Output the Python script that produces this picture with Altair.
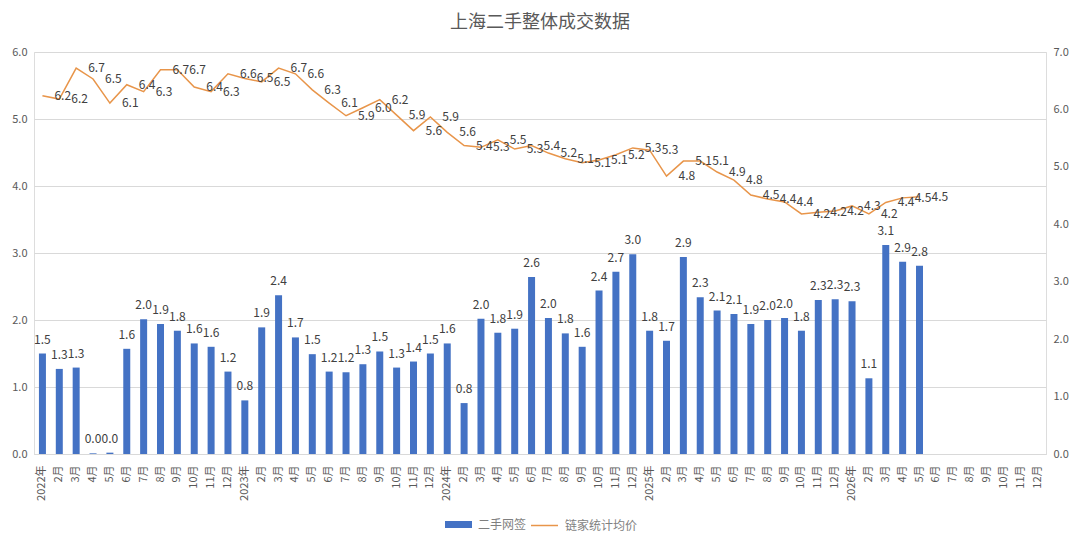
import altair as alt
import pandas as pd

FONT = "Noto Sans CJK SC"

# 60 monthly categories: 2022-01 .. 2026-12
years = [2022, 2023, 2024, 2025, 2026]
months = list(range(1, 13))
keys = [f"{y}-{m:02d}" for y in years for m in months]

# 二手网签 (left axis), 2022-01 .. 2026-05
deals = [1.50, 1.27, 1.29, 0.01, 0.02, 1.57, 2.01, 1.94, 1.84, 1.65, 1.60, 1.23,
         0.80, 1.89, 2.37, 1.74, 1.49, 1.23, 1.22, 1.34, 1.53, 1.29, 1.38, 1.50,
         1.65, 0.76, 2.02, 1.81, 1.87, 2.64, 2.03, 1.80, 1.60, 2.44, 2.72, 2.98,
         1.84, 1.69, 2.94, 2.34, 2.14, 2.09, 1.94, 2.00, 2.03, 1.84, 2.30, 2.31,
         2.28, 1.13, 3.12, 2.87, 2.81]

# 链家统计均价 (right axis), 2022-01 .. 2026-05
price = [6.24, 6.18, 6.72, 6.53, 6.11, 6.43, 6.31, 6.69, 6.69, 6.39, 6.31, 6.62,
         6.54, 6.48, 6.72, 6.62, 6.34, 6.11, 5.89, 6.03, 6.17, 5.90, 5.63, 5.87,
         5.60, 5.37, 5.34, 5.47, 5.31, 5.37, 5.24, 5.14, 5.07, 5.12, 5.21, 5.33,
         5.29, 4.84, 5.10, 5.10, 4.91, 4.77, 4.51, 4.44, 4.39, 4.18, 4.21, 4.23,
         4.32, 4.18, 4.38, 4.46, 4.48]

left_ticks = [0, 1, 2, 3, 4, 5, 6]
right_ticks = [0, 1, 2, 3, 4, 5, 6, 7]

bar_df = pd.DataFrame({"key": keys[:len(deals)], "v": deals, "s1": "二手网签"})
line_df = pd.DataFrame({"key": keys[:len(price)], "p": price, "s2": "链家统计均价"})

label_expr = ("substring(datum.value,5,7)=='01' ? substring(datum.value,0,4)+'年' : "
              "toNumber(substring(datum.value,5,7))+'月'")

X = alt.X("key:O",
          scale=alt.Scale(type="band", domain=keys, paddingInner=0, paddingOuter=0),
          axis=alt.Axis(labelExpr=label_expr, labelAngle=-90, labelFontSize=11,
                        labelColor="#595959", labelFont=FONT, ticks=False,
                        domainColor="#d9d9d9", labelPadding=11, grid=False),
          title=None)

Y_left = alt.Y("v:Q", scale=alt.Scale(domain=[0, 6], nice=False),
               axis=alt.Axis(values=left_ticks, format=".1f", orient="left",
                             grid=True, gridColor="#d9d9d9", domain=False, ticks=False,
                             labelColor="#595959", labelFontSize=11, labelFont=FONT,
                             labelPadding=7),
               title=None)

Y_right = alt.Y("p:Q", scale=alt.Scale(domain=[0, 7], nice=False),
                axis=alt.Axis(values=right_ticks, format=".1f", orient="right",
                              grid=False, domain=False, ticks=False,
                              labelColor="#595959", labelFontSize=11, labelFont=FONT,
                              labelPadding=7),
                title=None)

base_bar = alt.Chart(bar_df).encode(x=X, y=Y_left)
bars = base_bar.mark_bar(size=7).encode(
    color=alt.Color("s1:N", scale=alt.Scale(range=["#4472C4"]),
                    legend=alt.Legend(title=None, orient="none", legendX=411, legendY=459,
                                      symbolType="M-1,-0.26H1V0.26H-1Z", symbolSize=729,
                                      symbolStrokeWidth=0, labelFontSize=12,
                                      labelColor="#7f7f7f", labelFont=FONT,
                                      labelOffset=6, padding=0))
)
bar_text = base_bar.mark_text(baseline="bottom", dy=-7, fontSize=12,
                              color="#404040", font=FONT).encode(
    text=alt.Text("v:Q", format=".1f"))

base_line = alt.Chart(line_df).encode(x=X, y=Y_right)
line = base_line.mark_line(strokeWidth=1.5).encode(
    stroke=alt.Stroke("s2:N", scale=alt.Scale(range=["#E8954A"]),
                      legend=alt.Legend(title=None, orient="none", legendX=496, legendY=459,
                                        symbolType="stroke", symbolSize=729,
                                        symbolStrokeWidth=1.5, labelFontSize=12,
                                        labelColor="#7f7f7f", labelFont=FONT,
                                        labelOffset=6, padding=0))
)
line_text = base_line.mark_text(align="left", baseline="middle", dx=12, fontSize=12,
                                color="#404040", font=FONT).encode(
    text=alt.Text("p:Q", format=".1f"))

chart = alt.layer(
    alt.layer(bars, bar_text),
    alt.layer(line, line_text),
).resolve_scale(y="independent", color="independent", stroke="independent").properties(
    width=1012,
    height=402,
    padding={"left": 26, "top": 44, "right": 26, "bottom": 82},
    autosize=alt.AutoSizeParams(type="none"),
    title=alt.TitleParams("上海二手整体成交数据", fontSize=18, color="#595959",
                          font=FONT, fontWeight="normal", anchor="middle", offset=14),
).configure_view(stroke=None).configure(background="white")

chart.save("out.html", embed_options={"renderer": "svg", "actions": False})
